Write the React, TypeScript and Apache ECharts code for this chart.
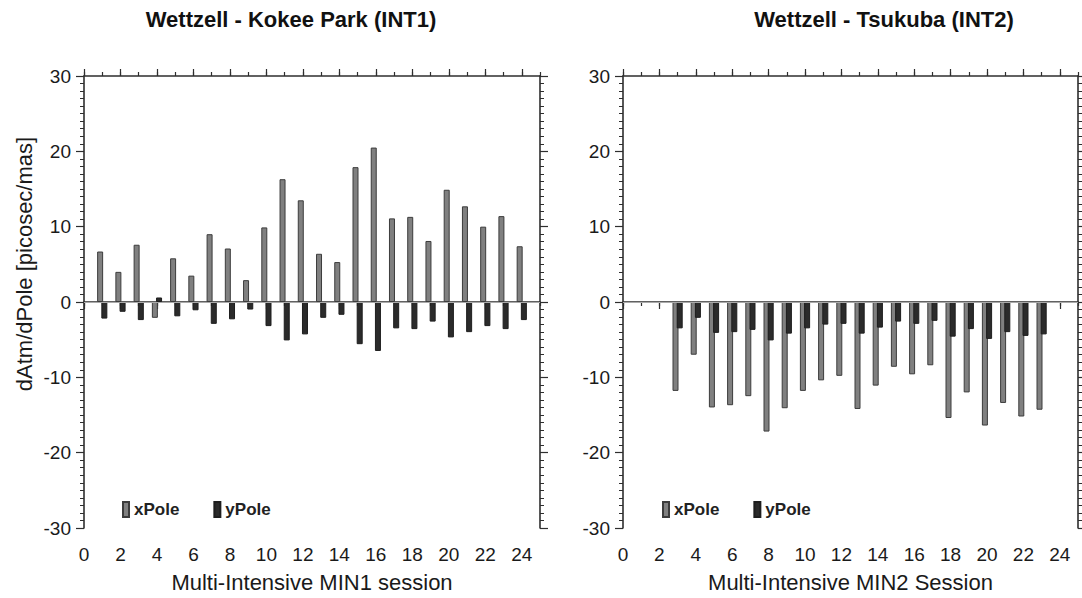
import React, { useEffect, useRef } from "react";
import * as echarts from "echarts";

// INT1 baseline, sessions 1..24
const sessions1 = [1, 2, 3, 4, 5, 6, 7, 8, 9, 10, 11, 12, 13, 14, 15, 16, 17, 18, 19, 20, 21, 22, 23, 24];
const xPole1 = [6.7, 4.0, 7.6, -2.1, 5.8, 3.5, 9.0, 7.1, 2.9, 9.9, 16.3, 13.5, 6.4, 5.3, 17.9, 20.5, 11.1, 11.3, 8.1, 14.9, 12.7, 10.0, 11.4, 7.4];
const yPole1 = [-2.2, -1.3, -2.4, 0.6, -1.9, -1.1, -2.9, -2.3, -1.0, -3.2, -5.1, -4.3, -2.1, -1.7, -5.6, -6.5, -3.5, -3.6, -2.6, -4.7, -4.0, -3.2, -3.6, -2.4];

// INT2 baseline, sessions 3..23
const sessions2 = [3, 4, 5, 6, 7, 8, 9, 10, 11, 12, 13, 14, 15, 16, 17, 18, 19, 20, 21, 22, 23];
const xPole2 = [-11.8, -7.0, -14.0, -13.7, -12.5, -17.2, -14.1, -11.8, -10.4, -9.8, -14.2, -11.1, -8.6, -9.6, -8.4, -15.4, -12.0, -16.4, -13.4, -15.2, -14.3];
const yPole2 = [-3.5, -2.1, -4.1, -4.0, -3.7, -5.1, -4.2, -3.5, -3.0, -2.9, -4.2, -3.4, -2.6, -2.9, -2.5, -4.6, -3.6, -4.9, -4.0, -4.5, -4.3];

const xMajorTicks = [0, 2, 4, 6, 8, 10, 12, 14, 16, 18, 20, 22, 24];
const titles = ["Wettzell - Kokee Park (INT1)", "Wettzell - Tsukuba (INT2)"];
const xNames = ["Multi-Intensive MIN1 session", "Multi-Intensive MIN2 Session"];
const yName = "dAtm/dPole [picosec/mas]";
const seriesNames = ["xPole", "yPole"];

const FONT = "'Liberation Sans', Arial, Helvetica, sans-serif";
const INK = "#1a1a1a";
const FRAME = "#2e2e2e";

const grids = [
  { left: 84, top: 76, width: 456, height: 454 },
  { left: 623, top: 76, width: 455, height: 454 },
];

function xAxesFor(g: number) {
  const line = { show: true, lineStyle: { color: FRAME, width: 1.6 } };
  const tickStyle = { color: FRAME, width: 1.2 };
  const base = { gridIndex: g, type: "value", min: 0, max: 25, splitLine: { show: false } };
  return [
    {
      ...base,
      position: "bottom",
      interval: 2,
      axisLine: line,
      axisTick: { show: true, length: 7, lineStyle: tickStyle, customValues: xMajorTicks },
      axisLabel: {
        customValues: xMajorTicks,
        fontSize: 19,
        color: INK,
        fontFamily: FONT,
        margin: 17,
      },
      name: xNames[g],
      nameLocation: "middle",
      nameGap: 43,
      nameTextStyle: { fontSize: 22, color: INK, fontFamily: FONT },
    },
    {
      ...base,
      position: "bottom",
      interval: 1,
      axisLine: { show: false },
      axisTick: { show: true, length: 4, lineStyle: tickStyle },
      axisLabel: { show: false },
    },
    {
      ...base,
      position: "top",
      interval: 2,
      axisLine: line,
      axisTick: { show: true, length: 7, lineStyle: tickStyle, customValues: xMajorTicks },
      axisLabel: { show: false },
    },
    {
      ...base,
      position: "top",
      interval: 1,
      axisLine: { show: false },
      axisTick: { show: true, length: 4, lineStyle: tickStyle },
      axisLabel: { show: false },
    },
  ];
}

function yAxesFor(g: number) {
  const common = {
    gridIndex: g,
    type: "value",
    min: -30,
    max: 30,
    interval: 10,
    splitLine: { show: false },
    axisLine: { show: true, onZero: false, lineStyle: { color: FRAME, width: 1.6 } },
    axisTick: { show: true, length: 8, lineStyle: { color: FRAME, width: 1.2 } },
    minorTick: { show: true, splitNumber: 10, length: 4, lineStyle: { color: FRAME, width: 1 } },
  };
  return [
    {
      ...common,
      position: "left",
      axisLabel: { fontSize: 19, color: INK, fontFamily: FONT, margin: 13 },
    },
    {
      ...common,
      position: "right",
      axisLabel: { show: false },
    },
  ];
}

function barSeries(g: number, sessions: number[], xs: number[], ys: number[]) {
  const xIdx = g * 4;
  const yIdx = g * 2;
  return [
    {
      name: seriesNames[0],
      type: "bar",
      xAxisIndex: xIdx,
      yAxisIndex: yIdx,
      barWidth: 6,
      barGap: "-30%",
      data: sessions.map((s, i) => [s, xs[i]]),
      itemStyle: { color: "#808080", borderColor: "#3c3c3c", borderWidth: 1 },
      markLine: {
        silent: true,
        symbol: ["none", "none"],
        label: { show: false },
        lineStyle: { color: "#aaaaaa", width: 1, type: "solid" },
        data: [{ yAxis: 0 }],
      },
      z: 2,
    },
    {
      name: seriesNames[1],
      type: "bar",
      xAxisIndex: xIdx,
      yAxisIndex: yIdx,
      barWidth: 6,
      barGap: "-30%",
      data: sessions.map((s, i) => [s, ys[i]]),
      itemStyle: { color: "#2b2b2b", borderColor: "#1e1e1e", borderWidth: 1 },
      z: 3,
    },
  ];
}

function legendFor(left: number) {
  return {
    left,
    top: 496,
    orient: "horizontal",
    icon: "rect",
    itemWidth: 6,
    itemHeight: 15,
    itemGap: 34,
    selectedMode: false,
    data: seriesNames,
    textStyle: { fontSize: 17, fontWeight: "bold", color: "#222", fontFamily: FONT },
  };
}

export default function App() {
  const ref = useRef<HTMLDivElement>(null);

  useEffect(() => {
    if (!ref.current) return;
    const chart = echarts.init(ref.current, undefined, { renderer: "svg" });
    chart.setOption({
      animation: false,
      backgroundColor: "#ffffff",
      grid: grids.map((g) => ({ ...g, containLabel: false })),
      xAxis: [...xAxesFor(0), ...xAxesFor(1)],
      yAxis: [...yAxesFor(0), ...yAxesFor(1)],
      legend: [legendFor(117), legendFor(657)],
      series: [
        ...barSeries(0, sessions1, xPole1, yPole1),
        ...barSeries(1, sessions2, xPole2, yPole2),
      ],
      graphic: [
        {
          type: "text",
          x: 291,
          y: 19,
          style: {
            text: titles[0],
            fontSize: 22,
            fontWeight: "bold",
            fontFamily: FONT,
            fill: "#111",
            align: "center",
            verticalAlign: "middle",
          },
        },
        {
          type: "text",
          x: 884,
          y: 19,
          style: {
            text: titles[1],
            fontSize: 22,
            fontWeight: "bold",
            fontFamily: FONT,
            fill: "#111",
            align: "center",
            verticalAlign: "middle",
          },
        },
        {
          type: "text",
          x: 24,
          y: 264,
          rotation: Math.PI / 2,
          style: {
            text: yName,
            fontSize: 22,
            fontFamily: FONT,
            fill: INK,
            align: "center",
            verticalAlign: "middle",
          },
        },
      ],
    });
    return () => chart.dispose();
  }, []);

  return (
    <div
      ref={ref}
      style={{ position: "fixed", left: 0, top: 0, width: 1082, height: 598, background: "#fff" }}
    />
  );
}
